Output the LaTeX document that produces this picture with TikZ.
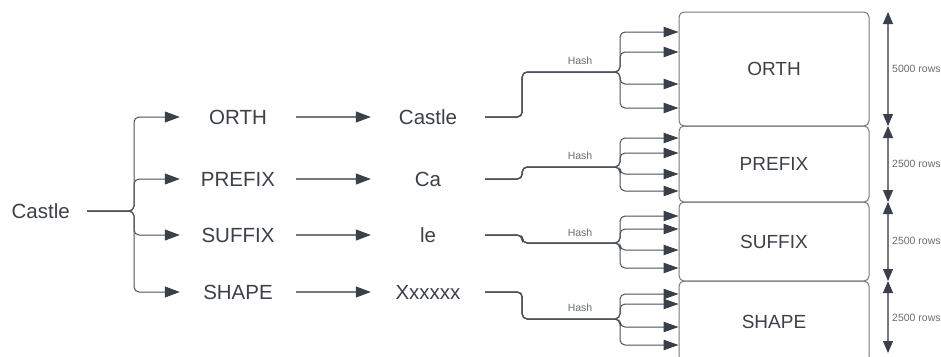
\documentclass[tikz,border=0pt]{standalone}
\usepackage{fontspec}
\setmainfont{Liberation Sans}
\usetikzlibrary{arrows.meta}
\definecolor{dk}{HTML}{3A404A}
\definecolor{ln}{HTML}{4A5059}
\definecolor{gr}{HTML}{75787D}
\definecolor{tx}{HTML}{3B4049}
\begin{document}
\begin{tikzpicture}[x=1pt,y=-1pt,
  big/.style={font=\fontsize{20.5}{24}\selectfont, text=tx, inner sep=0pt},
  lbl/.style={big, minimum width=116pt},
  midn/.style={big, minimum width=114pt},
  boxn/.style={draw=gr, line width=1pt, rounded corners=5pt, minimum width=190pt,
    text=tx, font=\fontsize{19}{22}\selectfont, inner sep=0pt},
  small/.style={font=\fontsize{10.5}{12}\selectfont, text=gr!90!black, inner sep=0pt},
  dline/.style={draw=ln, line width=1pt},
  gline/.style={draw=gr, line width=1.1pt},
  tipB/.style={-{Triangle[length=15pt,width=11pt,color=dk]}},
  tipS/.style={-{Triangle[length=15pt,width=10.5pt,color=dk]}},
  dbl/.style={draw=gr, line width=1.1pt,
    {Triangle[length=12pt,width=10pt,color=dk]}-{Triangle[length=12pt,width=10pt,color=dk]}}
]
\useasboundingbox (0,0) rectangle (941,356);
\clip (0,0) rectangle (941,356);

% left source word
\node[big, anchor=east, inner xsep=17pt] (c0) at (87,211) {Castle};

% feature labels
\node[lbl] (L1) at (238,117) {ORTH};
\node[lbl] (L2) at (238,179) {PREFIX};
\node[lbl] (L3) at (238,235) {SUFFIX};
\node[lbl] (L4) at (238,292) {SHAPE};

% extracted values
\node[midn] (M1) at (428,117) {Castle};
\node[midn] (M2) at (428,179) {Ca};
\node[midn] (M3) at (428,235) {le};
\node[midn] (M4) at (428,292) {Xxxxxx};

% tables
\node[boxn, minimum height=114pt] (B1) at (774,69) {ORTH};
\node[boxn, minimum height=76pt] (B2) at (774,164) {PREFIX};
\node[boxn, minimum height=79pt] (B3) at (774,241.5) {SUFFIX};
\node[boxn, minimum height=81pt] (B4) at (774,321.5) {SHAPE};

% left branching
\coordinate (lb) at (134,211);
\foreach \n in {L1,L2,L3,L4}
  \draw[dline, tipB, rounded corners=5pt] (c0.east) -- (lb) |- (\n.west);

% label -> value arrows
\foreach \i in {1,2,3,4}
  \draw[gline, tipB] (L\i.east) -- (M\i.west);

% hash junctions
\coordinate (H1) at (620,72);
\coordinate (H2) at (620,167);
\coordinate (H3) at (620,243);
\coordinate (H4) at (620,319);

\node[small] (hs1) at (580,61) {Hash};
\node[small] (hs2) at (580,156) {Hash};
\node[small] (hs3) at (580,233) {Hash};
\node[small] (hs4) at (580,308) {Hash};

\foreach \s in {37,17,-15,-39}
  \draw[dline, tipS, rounded corners=5pt] (M1.east) -- ++(37,0) |- (H1) |- ([yshift=\s pt]B1.west);
\foreach \s in {26,11,-10,-27}
  \draw[dline, tipS, rounded corners=5pt] (M2.east) -- ++(37,0) |- (H2) |- ([yshift=\s pt]B2.west);
\foreach \s in {25.5,12.5,-8.5,-26.5}
  \draw[dline, tipS, rounded corners=5pt] (M3.east) -- ++(37,0) |- (H3) |- ([yshift=\s pt]B3.west);
\foreach \s in {27.5,17.5,-5.5,-23.5}
  \draw[dline, tipS, rounded corners=5pt] (M4.east) -- ++(37,0) |- (H4) |- ([yshift=\s pt]B4.west);

% row counts
\coordinate (r0) at (888,12);
\coordinate (r1) at (888,126);
\coordinate (r2) at (888,202);
\coordinate (r3) at (888,281);
\coordinate (r4) at (888,353);
\draw[dbl] (r0) -- (r1);
\draw[dbl] (r1) -- (r2);
\draw[dbl] (r2) -- (r3);
\draw[dbl] (r3) -- (r4);
\node[small, anchor=west] (n1) at (892,69) {5000 rows};
\node[small, anchor=west] (n2) at (892,164) {2500 rows};
\node[small, anchor=west] (n3) at (892,241) {2500 rows};
\node[small, anchor=west] (n4) at (892,318) {2500 rows};
\end{tikzpicture}
\end{document}
